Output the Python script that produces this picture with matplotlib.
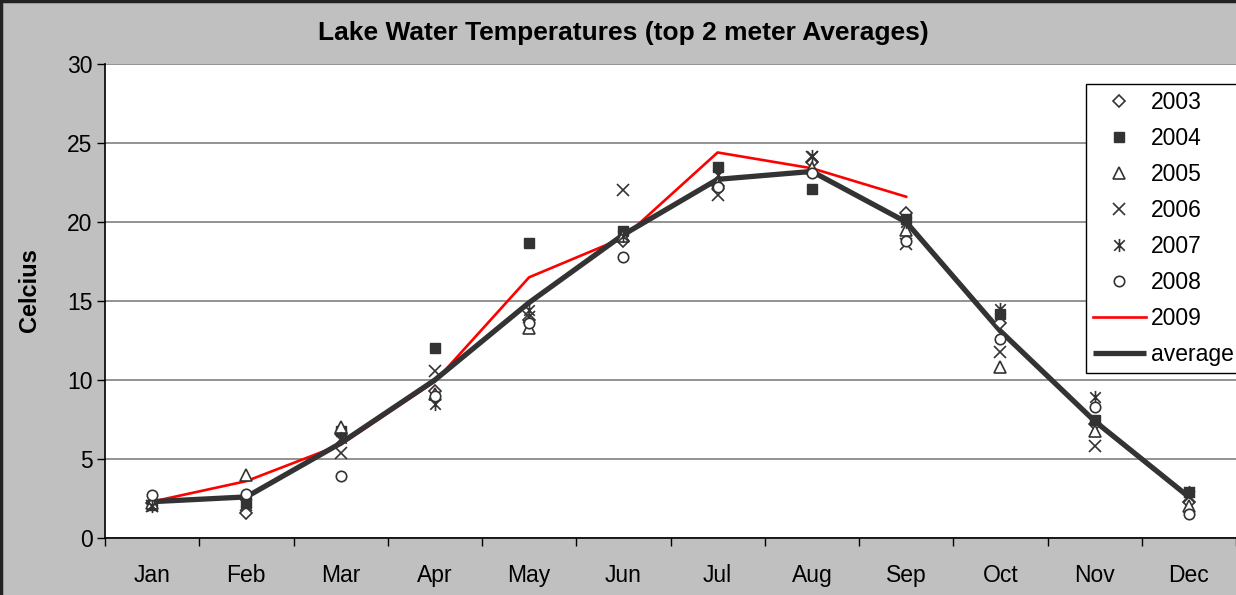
import numpy as np
import matplotlib
matplotlib.use("Agg")
import matplotlib.pyplot as plt
from matplotlib.path import Path
from matplotlib.lines import Line2D

plt.rcParams['font.family'] = ['Liberation Sans', 'DejaVu Sans']

months = ["Jan", "Feb", "Mar", "Apr", "May", "Jun", "Jul", "Aug", "Sep", "Oct", "Nov", "Dec"]
y2003 = [2.2, 1.6, 6.6, 9.3, 13.8, 18.8, 22.3, 23.8, 20.6, 13.6, 7.2, 2.3]
y2004 = [2.1, 2.2, 6.8, 12.0, 18.7, 19.4, 23.5, 22.1, 20.2, 14.2, 7.5, 2.9]
y2005 = [2.2, 4.0, 7.0, 9.1, 13.3, 19.1, 22.5, 23.4, 19.5, 10.8, 6.8, 2.0]
y2006 = [2.0, 2.1, 5.4, 10.6, 14.0, 22.0, 21.7, 24.1, 18.6, 11.8, 5.8, 2.6]
y2007 = [2.0, 2.3, 6.3, 8.5, 14.4, 19.1, 23.0, 24.2, 20.0, 14.5, 8.9, 2.9]
y2008 = [2.7, 2.8, 3.9, 9.0, 13.6, 17.8, 22.2, 23.1, 18.8, 12.6, 8.3, 1.5]
y2009 = [2.3, 3.6, 5.9, 9.9, 16.5, 19.0, 24.4, 23.4, 21.6, np.nan, np.nan, np.nan]
yavg = [2.3, 2.6, 6.0, 10.0, 14.9, 19.2, 22.7, 23.2, 20.0, 13.1, 7.4, 2.6]
yticks = [0, 5, 10, 15, 20, 25, 30]

W, H = 1236, 595
fig = plt.figure(figsize=(W / 100, H / 100), dpi=100, facecolor='#C0C0C0')
ax = fig.add_axes([105 / W, 1 - 538 / H, (1236 - 105) / W, (538 - 64) / H])
ax.set_facecolor('white')

x = np.arange(len(months))
mc = '#333333'

# asterisk marker: vertical bar + X
ast = Path([(0, -1), (0, 1), (-0.8, -0.8), (0.8, 0.8), (-0.8, 0.8), (0.8, -0.8)],
           [Path.MOVETO, Path.LINETO, Path.MOVETO, Path.LINETO, Path.MOVETO, Path.LINETO])

ax.plot(x, y2003, linestyle='none', marker='D', ms=5.8, mfc='white', mec=mc, mew=1.2, label='2003', zorder=4)
ax.plot(x, y2004, linestyle='none', marker='s', ms=6.8, mfc=mc, mec=mc, mew=1.0, label='2004', zorder=4)
ax.plot(x, y2005, linestyle='none', marker='^', ms=8, mfc='white', mec=mc, mew=1.2, label='2005', zorder=4)
ax.plot(x, y2006, linestyle='none', marker='x', ms=8.5, mec=mc, mew=1.2, label='2006', zorder=4)
ax.plot(x, y2007, linestyle='none', marker=ast, ms=9.5, mec=mc, mew=1.2, label='2007', zorder=4)
ax.plot(x, y2008, linestyle='none', marker='o', ms=7.5, mfc='white', mec=mc, mew=1.2, label='2008', zorder=4)
ax.plot(x, y2009, color='#FF0000', lw=1.9, label='2009', zorder=3)
ax.plot(x, yavg, color='#333333', lw=3.8, label='average', zorder=3, solid_capstyle='butt')

ax.set_xlim(-0.5, 11.5)
ax.set_ylim(0, 30)
ax.set_yticks(yticks)
ax.set_yticklabels([str(t) for t in yticks], fontsize=16.5)
ax.set_xticks(x)
ax.set_xticklabels(months, fontsize=16.5)
ax.set_xticks(np.arange(-0.5, 12, 1), minor=True)
ax.tick_params(axis='x', which='major', length=0, pad=19)
ax.tick_params(axis='x', which='minor', length=6, width=1, direction='out', color='black')
ax.tick_params(axis='y', which='major', length=6, width=1, direction='out', color='black', pad=3)
ax.yaxis.grid(True, color='#808080', lw=1.2)
ax.set_axisbelow(True)
for s in ['top', 'right']:
    ax.spines[s].set_visible(False)
ax.spines['left'].set_color('black')
ax.spines['bottom'].set_color('black')
ax.spines['left'].set_linewidth(1.2)
ax.spines['bottom'].set_linewidth(1.2)

ax.set_ylabel('Celcius', fontsize=17, fontweight='bold')
ax.yaxis.set_label_coords((41 - 105) / 1131, (538 - 290) / 474)
fig.text(623 / W, 1 - 33 / H, 'Lake Water Temperatures (top 2 meter Averages)',
         ha='center', va='center', fontsize=19, fontweight='bold')

leg = fig.legend(loc='upper left', bbox_to_anchor=(1086 / W, 1 - 84 / H),
                 bbox_transform=fig.transFigure, fontsize=16.5, frameon=True,
                 fancybox=False, edgecolor='black', framealpha=1,
                 labelspacing=0.57, handlelength=2.3, handletextpad=0.25,
                 borderpad=0.3, borderaxespad=0)
leg.get_frame().set_linewidth(1.0)

# dark border on top and left of figure
fig.add_artist(Line2D([0, 1], [1 - 1 / H, 1 - 1 / H], transform=fig.transFigure, color='#222222', lw=2.5))
fig.add_artist(Line2D([1 / W, 1 / W], [0, 1], transform=fig.transFigure, color='#222222', lw=2.5))

fig.savefig('out.png', dpi=100, facecolor=fig.get_facecolor())
